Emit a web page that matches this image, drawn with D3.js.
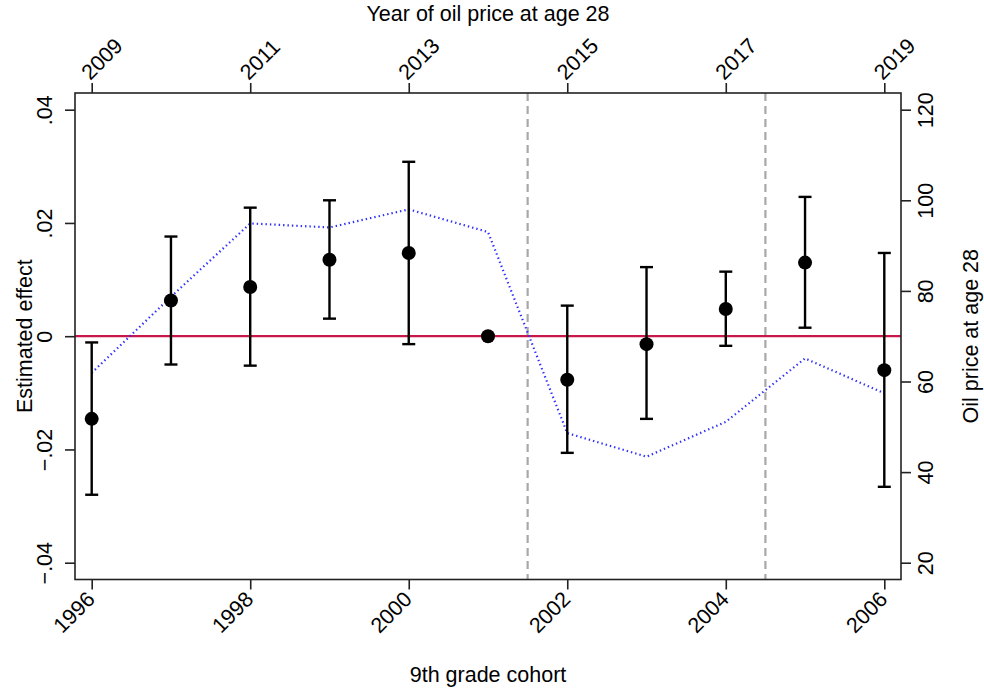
<!DOCTYPE html>
<html>
<head>
<meta charset="utf-8">
<script src="https://cdn.jsdelivr.net/npm/d3@7"></script>
<style>
  body { margin: 0; background: #fff; }
  svg text { font-family: "Liberation Sans", Arial, sans-serif; fill: #000; }
</style>
</head>
<body>
<div class="chart"></div>
<script>
// cohort estimates
var cohorts = [1996, 1997, 1998, 1999, 2000, 2001, 2002, 2003, 2004, 2005, 2006];
var estimates = [-0.0146, 0.0063, 0.0087, 0.0135, 0.0147, 0, -0.0077, -0.0014, 0.0048, 0.0130, -0.0060];
var ciLow = [-0.0280, -0.0050, -0.0052, 0.0031, -0.0014, null, -0.0206, -0.0146, -0.0017, 0.0015, -0.0266];
var ciHigh = [-0.0011, 0.0176, 0.0227, 0.0240, 0.0308, null, 0.0054, 0.0122, 0.0114, 0.0246, 0.0147];
var oilPrice = [61.9, 78.7, 94.9, 94.0, 98.0, 93.0, 48.6, 43.4, 51.1, 65.1, 57.4];
var cutoffs = [2001.5, 2004.5];

var bottomTicks = [1996, 1998, 2000, 2002, 2004, 2006];
var topTicks = [2009, 2011, 2013, 2015, 2017, 2019];
var leftTicks = [-0.04, -0.02, 0, 0.02, 0.04];
var rightTicks = [20, 40, 60, 80, 100, 120];

var svgWidth = 984;
var svgHeight = 692;
var fontSize = "21.5px";

// plot frame
var frame = { left: 75, top: 93, right: 901, bottom: 579.5 };

var svg = d3.select(".chart")
  .append("svg")
  .attr("width", svgWidth)
  .attr("height", svgHeight);

var xScale = d3.scaleLinear().domain([1996, 2006]).range([91.7, 884.3]);
var xTopScale = d3.scaleLinear().domain([2009, 2019]).range([91.7, 884.3]);
var yLeft = d3.scaleLinear().domain([-0.04, 0.04]).range([562.7, 109.7]);
var yRight = d3.scaleLinear().domain([20, 120]).range([562.7, 109.7]);

var fmtLeft = function(d) {
  if (d === 0) return "0";
  return d3.format(".2f")(d).replace("0.", ".");
};

// vertical cutoff lines
svg.selectAll(".cutoff")
  .data(cutoffs)
  .enter()
  .append("line")
  .attr("x1", d => xScale(d))
  .attr("x2", d => xScale(d))
  .attr("y1", frame.top)
  .attr("y2", frame.bottom)
  .attr("stroke", "#a8a8a8")
  .attr("stroke-width", 2.2)
  .attr("stroke-dasharray", "8,5");

// zero line
svg.append("line")
  .attr("x1", frame.left)
  .attr("x2", frame.right)
  .attr("y1", yLeft(0))
  .attr("y2", yLeft(0))
  .attr("stroke", "#c8174a")
  .attr("stroke-width", 2.2);

// oil price line (right axis)
var oilLine = d3.line()
  .x((d, i) => xScale(cohorts[i]))
  .y(d => yRight(d));

svg.append("path")
  .datum(oilPrice)
  .attr("d", oilLine)
  .attr("fill", "none")
  .attr("stroke", "#2f2fff")
  .attr("stroke-width", 2.2)
  .attr("stroke-dasharray", "1.4,3");

// error bars
var ciData = cohorts.map((c, i) => ({ c: c, lo: ciLow[i], hi: ciHigh[i] }))
  .filter(d => d.lo !== null);

var bars = svg.append("g")
  .attr("stroke", "#000")
  .attr("stroke-width", 2.4);

bars.selectAll(".vbar")
  .data(ciData)
  .enter()
  .append("line")
  .attr("x1", d => xScale(d.c))
  .attr("x2", d => xScale(d.c))
  .attr("y1", d => yLeft(d.lo))
  .attr("y2", d => yLeft(d.hi));

bars.selectAll(".capHi")
  .data(ciData)
  .enter()
  .append("line")
  .attr("x1", d => xScale(d.c) - 6.5)
  .attr("x2", d => xScale(d.c) + 6.5)
  .attr("y1", d => yLeft(d.hi))
  .attr("y2", d => yLeft(d.hi));

bars.selectAll(".capLo")
  .data(ciData)
  .enter()
  .append("line")
  .attr("x1", d => xScale(d.c) - 6.5)
  .attr("x2", d => xScale(d.c) + 6.5)
  .attr("y1", d => yLeft(d.lo))
  .attr("y2", d => yLeft(d.lo));

// point estimates
svg.selectAll(".pt")
  .data(estimates)
  .enter()
  .append("circle")
  .attr("cx", (d, i) => xScale(cohorts[i]))
  .attr("cy", d => yLeft(d))
  .attr("r", 7)
  .attr("fill", "#000");

// frame
svg.append("rect")
  .attr("x", frame.left)
  .attr("y", frame.top)
  .attr("width", frame.right - frame.left)
  .attr("height", frame.bottom - frame.top)
  .attr("fill", "none")
  .attr("stroke", "#222")
  .attr("stroke-width", 1.6);

function styleAxis(g) {
  g.select(".domain").remove();
  g.selectAll(".tick line").attr("stroke", "#222").attr("stroke-width", 1.6);
  g.selectAll(".tick text")
    .attr("x", 0)
    .attr("y", 0)
    .attr("dy", null)
    .style("font-size", fontSize);
}

// bottom axis
var bottomAxis = svg.append("g")
  .attr("transform", `translate(0, ${frame.bottom})`)
  .call(d3.axisBottom(xScale).tickValues(bottomTicks).tickFormat(d3.format("d")).tickSize(10))
  .call(styleAxis);
bottomAxis.selectAll(".tick text")
  .attr("text-anchor", "end")
  .attr("transform", "translate(4, 21) rotate(-45)");

// top axis
var topAxis = svg.append("g")
  .attr("transform", `translate(0, ${frame.top})`)
  .call(d3.axisTop(xTopScale).tickValues(topTicks).tickFormat(d3.format("d")).tickSize(10))
  .call(styleAxis);
topAxis.selectAll(".tick text")
  .attr("text-anchor", "start")
  .attr("transform", "translate(-2, -12) rotate(-45)");

// left axis
var leftAxis = svg.append("g")
  .attr("transform", `translate(${frame.left}, 0)`)
  .call(d3.axisLeft(yLeft).tickValues(leftTicks).tickFormat(fmtLeft).tickSize(10))
  .call(styleAxis);
leftAxis.selectAll(".tick text")
  .attr("text-anchor", "middle")
  .attr("transform", "translate(-23, 0) rotate(-90)");

// right axis
var rightAxis = svg.append("g")
  .attr("transform", `translate(${frame.right}, 0)`)
  .call(d3.axisRight(yRight).tickValues(rightTicks).tickSize(10))
  .call(styleAxis);
rightAxis.selectAll(".tick text")
  .attr("text-anchor", "middle")
  .attr("transform", "translate(32, 0) rotate(-90)");

// axis titles
svg.append("text")
  .attr("x", (frame.left + frame.right) / 2)
  .attr("y", 21)
  .attr("text-anchor", "middle")
  .style("font-size", fontSize)
  .text("Year of oil price at age 28");

svg.append("text")
  .attr("x", (frame.left + frame.right) / 2)
  .attr("y", 682)
  .attr("text-anchor", "middle")
  .style("font-size", fontSize)
  .text("9th grade cohort");

svg.append("text")
  .attr("transform", `translate(32, ${yLeft(0)}) rotate(-90)`)
  .attr("text-anchor", "middle")
  .style("font-size", fontSize)
  .text("Estimated effect");

svg.append("text")
  .attr("transform", `translate(978, ${yLeft(0)}) rotate(-90)`)
  .attr("text-anchor", "middle")
  .style("font-size", fontSize)
  .text("Oil price at age 28");
</script>
</body>
</html>
